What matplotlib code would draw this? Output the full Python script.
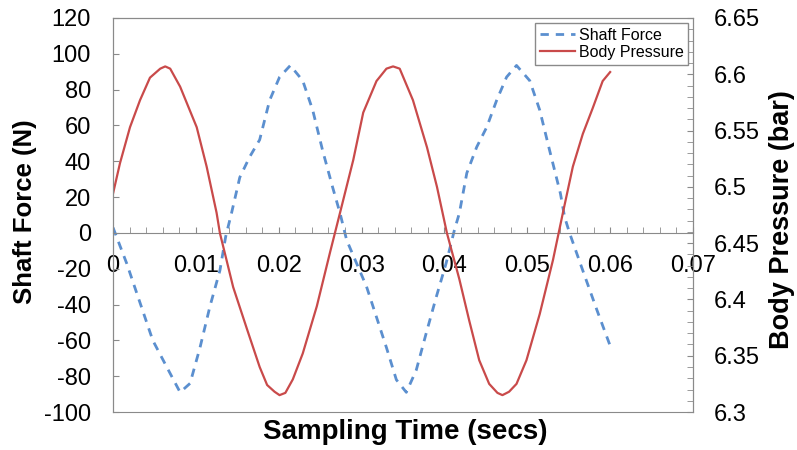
import matplotlib.pyplot as plt
from matplotlib.ticker import MultipleLocator

plt.rcParams['font.family'] = ['Liberation Sans', 'DejaVu Sans']
plt.rcParams['axes.unicode_minus'] = False

# shaft force (N), time in ms
t_force = [0, 1.65, 3.26, 4.8, 6.5, 8.1, 9.3, 10.5, 11.7, 12.9, 13.6, 14.3, 15.3, 16.5, 17.7,
           18.9, 20.1, 21.4, 22.9, 24.1, 25.3, 26.5, 27.4, 28.2, 30.6, 33.0, 34.2, 35.4, 36.6,
           37.8, 39.0, 40.2, 41.2, 41.8, 42.7, 43.9, 45.1, 46.3, 47.5, 48.7, 50.3, 51.5, 52.7,
           54.0, 54.5, 55.1, 56.7, 58.4, 60.0]
force = [3, -17, -39, -60, -75, -89, -84, -64, -41, -21, -2, 11, 31, 42.5, 52,
         74, 87, 93.5, 85, 68.6, 46, 25.6, 11, -4, -30, -64, -82, -89, -76.6,
         -56, -36, -17, 1.5, 11, 33.4, 48, 59, 74, 87, 93.5, 85, 68.6, 46,
         22, 9, 0, -21, -43, -63]

# body pressure (bar), time in ms
t_press = [0, 0.84, 2.05, 3.26, 4.46, 5.7, 6.3, 6.9, 8.1, 10.1, 11.3, 12.5, 12.9, 14.5, 16.2,
           17.7, 18.6, 19.5, 20.1, 20.8, 21.7, 22.9, 24.6, 26.2, 27.4, 29.0, 30.2, 31.8, 33.0,
           33.8, 34.6, 36.2, 37.9, 39.1, 40.3, 41.8, 43.0, 44.2, 45.4, 46.4, 47.0, 47.8, 48.7,
           49.9, 51.5, 53.1, 54.3, 55.5, 56.7, 57.9, 59.1, 60.0]
pressure = [6.494, 6.521, 6.553, 6.577, 6.597, 6.605, 6.607, 6.605, 6.589, 6.553, 6.518, 6.477,
            6.459, 6.411, 6.373, 6.340, 6.324, 6.318, 6.315, 6.317, 6.329, 6.352, 6.394, 6.442,
            6.477, 6.524, 6.566, 6.594, 6.605, 6.607, 6.605, 6.577, 6.535, 6.500, 6.459, 6.418,
            6.381, 6.346, 6.325, 6.317, 6.315, 6.318, 6.325, 6.346, 6.387, 6.435, 6.477, 6.518,
            6.547, 6.570, 6.594, 6.602]

fig = plt.figure(figsize=(7.97, 4.5), dpi=100)
ax = fig.add_axes([0.1418, 0.0844, 0.7277, 0.8756])
ax2 = ax.twinx()

l1, = ax.plot([t / 1000 for t in t_force], force, color='#5B8FCF', lw=2, ls=(0, (3.0, 2.5)),
              label='Shaft Force')
l2, = ax2.plot([t / 1000 for t in t_press], pressure, color='#C94A4A', lw=1.6,
               label='Body Pressure')

grey = '#8a8a8a'
ax.set_xlim(0, 0.07)
ax.set_ylim(-100, 120)
ax2.set_ylim(6.3, 6.65)

# x axis drawn through zero, frame bottom kept from the twin axes
ax.spines['bottom'].set_position(('data', 0))
for s in ['left', 'top', 'right', 'bottom']:
    ax.spines[s].set_color(grey)
    ax2.spines[s].set_color(grey)
ax2.spines['bottom'].set_visible(True)

ax.xaxis.set_major_locator(MultipleLocator(0.01))
ax.xaxis.set_minor_locator(MultipleLocator(0.002))
ax.xaxis.set_major_formatter(plt.FuncFormatter(lambda v, p: '%g' % round(v, 3)))
ax.tick_params(axis='x', which='both', direction='in', length=4, color=grey, pad=16,
               labelsize=17)
ax.yaxis.set_major_locator(MultipleLocator(20))
ax.tick_params(axis='y', which='both', direction='in', length=4, color=grey, pad=16,
               labelsize=17)
ax2.yaxis.set_major_locator(MultipleLocator(0.05))
ax2.yaxis.set_minor_locator(MultipleLocator(0.01))
ax2.yaxis.set_major_formatter(plt.FuncFormatter(lambda v, p: '%g' % round(v, 2)))
ax2.tick_params(axis='y', which='both', direction='in', length=4, color=grey, pad=15,
                labelsize=17)

fig.text(0.508, 0.04, 'Sampling Time (secs)', ha='center', va='center', fontsize=20,
         fontweight='bold')
fig.text(0.031, 0.529, 'Shaft Force (N)', ha='center', va='center', rotation=90,
         fontsize=18.5, fontweight='bold')
fig.text(0.981, 0.513, 'Body Pressure (bar)', ha='center', va='center', rotation=90,
         fontsize=19.5, fontweight='bold')

leg = ax2.legend(handles=[l1, l2], loc='upper right', fontsize=11.5, fancybox=False,
                 borderaxespad=0.3, handlelength=2.2, handletextpad=0.2,
                 labelspacing=0.15, borderpad=0.3, framealpha=1)
leg.get_frame().set_edgecolor(grey)

fig.savefig('out.png', dpi=100)
